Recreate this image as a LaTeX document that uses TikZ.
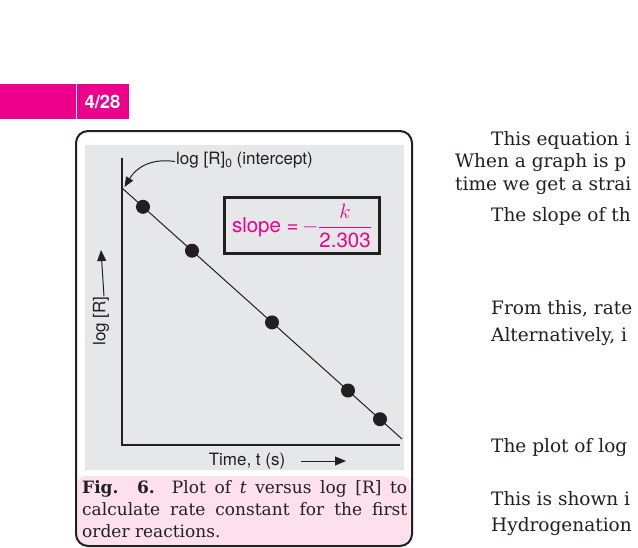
\documentclass[tikz,border=0pt]{standalone}
\usepackage{amsmath}
\usepackage{fontspec}
\setmainfont{DejaVu Serif}
\setsansfont{TeX Gyre Heros}
\usetikzlibrary{arrows.meta}
\definecolor{mag}{HTML}{EC008C}
\definecolor{panelgray}{HTML}{E6E7E8}
\definecolor{capbg}{HTML}{FCE1ED}
\definecolor{ink}{HTML}{231F20}
\tikzset{
  lbl/.style={font=\sffamily\fontsize{17}{19}\selectfont, text=ink, inner sep=0pt},
  axisline/.style={draw=ink, line width=1.3pt},
  fitline/.style={draw=ink, line width=1pt},
  dot/.style={circle, fill=ink, minimum size=14pt, inner sep=0pt},
  arr/.style={draw=ink, line width=1pt, -{Triangle[length=11pt,width=9pt]}},
  slopebox/.style={draw=ink, line width=3pt, minimum width=155pt, minimum height=56pt, inner sep=0pt},
  capline/.style={font=\fontsize{17}{22}\selectfont, text=ink, inner sep=0pt, anchor=base west},
  bodyline/.style={font=\fontsize{18.5}{22}\selectfont, text=ink, inner sep=0pt, anchor=base west}
}
\begin{document}
\begin{tikzpicture}[x=1pt,y=-1pt]
\useasboundingbox (0,0) rectangle (638,547);
\clip (0,0) rectangle (638,547);
\fill[white] (0,0) rectangle (638,547);
% page tab
\fill[mag] (0,84) rectangle (75.5,119);
\fill[mag] (77,84) rectangle (129,119);
\node[font=\sffamily\bfseries\fontsize{18.5}{20}\selectfont, text=white, inner sep=0pt] (pg) at (102.5,102) {4/28};
% caption background
\begin{scope}
  \clip[rounded corners=12pt] (76,131) rectangle (412,546);
  \fill[capbg, rounded corners=8pt] (77.5,476) rectangle (410.5,560);
\end{scope}
% outer box
\draw[ink, line width=2pt, rounded corners=12pt] (76,131) rectangle (412,546);
% plot panel
\fill[panelgray] (85,145) rectangle (404,470);
% axes
\coordinate (ytop) at (122,158);
\coordinate (O) at (122,445);
\coordinate (xend) at (400,445);
\draw[axisline] (ytop) -- (O) -- (xend);
% fit line
\coordinate (L0) at (122,188);
\coordinate (L1) at (402,439);
\draw[fitline] (L0) -- (L1);
\node[dot] (p1) at (143,206.8) {};
\node[dot] (p2) at (192,250.7) {};
\node[dot] (p3) at (272,322.4) {};
\node[dot] (p4) at (348,390.5) {};
\node[dot] (p5) at (380,419.2) {};
% intercept label
\node[lbl, anchor=west] (ic) at (176,160) {log [R]\raisebox{-3pt}{\fontsize{12}{12}\selectfont 0} (intercept)};
\coordinate (tip) at (124.5,187);
\draw[draw=ink, line width=1pt, -{Triangle[length=10pt,width=8pt]}] ([xshift=-1pt,yshift=-1.5pt]ic.west) .. controls (150,158) and (136,168) .. (tip);
% slope box
\node[slopebox] (sb) at (302,225.5) {};
\node[text=mag, inner sep=0pt, font=\fontsize{20.5}{24}\selectfont] (sl) at (302,226) {\sffamily slope =\,$-\displaystyle\frac{k}{\textsf{2.303}}$};
% axis labels
\node[lbl, rotate=90] (yl) at (101,321) {log [R]};
\coordinate (ya) at (101,250);
\draw[arr] ([xshift=3pt]yl.east) -- (ya);
\node[lbl] (xl) at (247,461) {Time, t (s)};
\coordinate (xa) at (346,461);
\draw[arr] ([xshift=16pt]xl.east) -- (xa);
% caption
\node[capline] (c1) at (82,493) {\makebox[325pt][s]{\textbf{Fig. 6.} Plot of \textit{t} versus log [R] to}};
\node[capline] (c2) at (82,515) {\makebox[325pt][s]{calculate rate constant for the first}};
\node[capline] (c3) at (82,537.5) {order reactions.};
% body text
\node[bodyline] (b1) at (491,145) {This equation i};
\node[bodyline] (b2) at (455,167.5) {When a graph is p};
\node[bodyline] (b3) at (455,190) {time we get a strai};
\node[bodyline] (b4) at (491,221) {The slope of th};
\node[bodyline] (b5) at (491,314.5) {From this, rate};
\node[bodyline] (b6) at (491,341.5) {Alternatively, i};
\node[bodyline] (b7) at (491,452) {The plot of log};
\node[bodyline] (b8) at (491,505) {This is shown i};
\node[bodyline] (b9) at (491,531.5) {Hydrogenation};
\end{tikzpicture}
\end{document}
